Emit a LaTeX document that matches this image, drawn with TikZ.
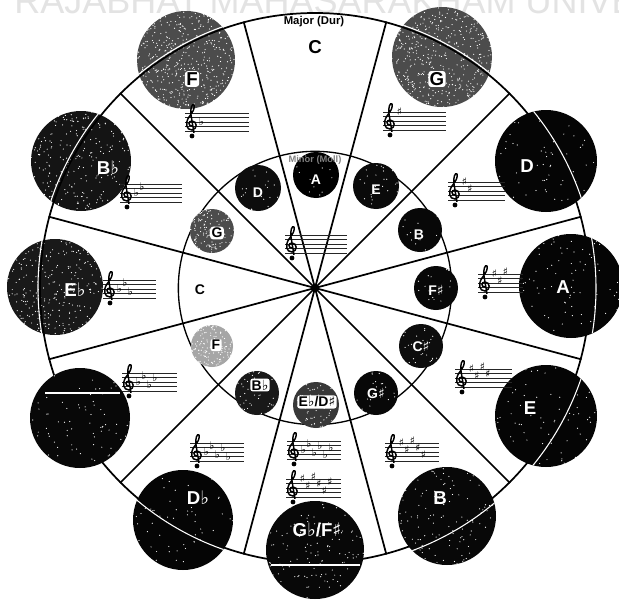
\documentclass[tikz,border=0pt]{standalone}
\usepackage{fontspec}
\setmainfont{Liberation Sans}
\newfontfamily\musicfont{DejaVu Sans}
\usetikzlibrary{positioning}
\newcommand{\fl}{{\musicfont ♭}}
\newcommand{\sh}{{\musicfont ♯}}
\newcommand{\speckle}[4]{\foreach \i in {1,...,#4}{%
  \pgfmathsetmacro\ra{360*rnd}\pgfmathsetmacro\rd{#3*sqrt(rnd)}%
  \fill[white] (#1,#2) ++(\ra:\rd) circle (.6);}}
\def\sharplist{-9,-2.25,-11.25,-4.5,2.25,-6.75}
\def\flatlist{0,-6.75,2.25,-4.5,4.5,-2.25}
\tikzset{
  spoke/.style={line width=1.3pt},
  rimline/.style={draw, circle, line width=1.3pt, inner sep=0pt},
  keydisc/.style={circle, inner sep=0pt, draw=none},
  biglabel/.style={font=\bfseries\fontsize{14}{14}\selectfont, text=white, inner sep=0pt},
  smalllabel/.style={font=\bfseries\fontsize{10.5}{11}\selectfont, text=white, inner sep=0pt},
  halo/.style={fill=white, text=black, inner sep=1pt, rounded corners=2pt},
  streak/.style={white, line width=.8pt},
  staffline/.style={black!85, line width=.6pt},
  acc/.style={inner sep=0pt, font=\musicfont\bfseries\fontsize{8}{8}\selectfont},
  pics/keystaff/.style n args={3}{code={
    \foreach \l in {-9,-4.5,0,4.5,9}{\draw[staffline] (0,\l) -- (#1,\l);}
    \draw[line width=1.1pt] (7,4) .. controls (3,4) and (3,-1) .. (7,-1)
      .. controls (12,-1) and (13,7) .. (7,8) .. controls (1,8) and (0,1) .. (4,-5)
      .. controls (8,-10) and (10,-14) .. (9,-17) .. controls (7,-19) and (5,-13) .. (6,-7) -- (9,11);
    \fill (7,14) circle (2.4);
    \foreach \ay [count=\c] in #3{\ifnum\c>#2\else
      \node[acc] at (11+5.5*\c,\ay) {\ifx#3\sharplist ♯\else ♭\fi};\fi}
  }}
}
\begin{document}
\begin{tikzpicture}[x=.75pt, y=-.75pt]
  \useasboundingbox (0,0) rectangle (619,600);
  \fill[white] (0,0) rectangle (619,600);
  \begin{scope}
    \clip (0,0) rectangle (619,600);
    \node[anchor=base west, inner sep=0pt, text=black!11, font=\fontsize{27}{27}\selectfont] (watermark) at (14,13) {RAJABHAT MAHASARAKHAM UNIVERSITY};
  \end{scope}

  % rings and spokes
  \node[rimline, minimum size=412.5pt] (rim) at (315,288) {};
  \node[rimline, line width=1pt, minimum size=205pt] (innerrim) at (315,288) {};
  \node[fill=black, inner sep=0pt, minimum size=5pt] (hub) at (315,288) {};
  \foreach \a in {15,45,...,345}{
    \draw[spoke] (hub.center) -- (rim.\a);
  }

  % outer discs
  \pgfmathsetseed{7}
  \foreach \name/\cx/\cy/\r/\s/\n in {F/186/60/49/70/420, G/442/57/50/70/420, Bb/81/161/50/92/210, Eb/55/287/48/90/240,
      Ab/80/418/50/97/70, Db/183/520/50/98/50, Gb/315/550/49/97/110, B/447/516/49/97/110, E/546/416/51/98/60, A/571/286/52/98/70, D/546/161/51/98/50}{
    \node[keydisc, fill=black!\s, minimum size=1.5*\r pt] (key\name) at (\cx,\cy) {};
    \speckle{\cx}{\cy}{\r}{\n}
  }

  % streaks on the outer discs
  \foreach \name/\cx/\cy/\r/\rr in {F/186/60/49/277, G/442/57/50/277, Bb/81/161/50/278, Eb/55/287/48/277, Db/183/520/50/277, B/447/516/49/280, E/546/416/51/281, A/571/286/52/281, D/546/161/51/281}{
    \begin{scope}
      \clip (\cx,\cy) circle (\r);
      \draw[streak] (315,288) circle (\rr);
    \end{scope}
  }
  \begin{scope}
    \clip (186,60) circle (49) (442,57) circle (50) (81,161) circle (50) (55,287) circle (48);
    \draw[line width=1.3pt] (315,288) circle (275);
  \end{scope}
  \draw[streak] (45,393) -- (120,393);
  \draw[streak] (271,565) -- (360,565);

  % inner discs
  \foreach \name/\cx/\cy/\r/\s/\n in {A/316/175/23/100/12, E/376/186/23/96/25, B/420/230/22/97/12, Fs/436/288/22/97/14, Cs/421/346/22/95/25, Gs/376/393/22/97/20,
      Ebm/316/405/23/78/60, Bbm/257/393/22/90/40, Fm/212/346/21/35/130, Gm/212/231/22/70/110, Dm/258/188/23/95/20}{
    \node[keydisc, fill=black!\s, minimum size=1.5*\r pt] (small\name) at (\cx,\cy) {};
    \ifnum\n>0 \speckle{\cx}{\cy}{\r}{\n}\fi
  }

  % staves
  \foreach \sx/\sy/\w/\n in {285/244/62/0, 383/121/63/1, 448/191/57/2, 478/283/45/3, 455/378/57/4, 385/452/54/5, 286/488/55/6}{
    \pic at (\sx,\sy) {keystaff={\w}{\n}{\sharplist}};
  }
  \foreach \sx/\sy/\w/\n in {185/122/64/1, 120/193/62/2, 103/289/53/3, 122/382/55/4, 190/452/54/5, 287/450/54/6}{
    \pic at (\sx,\sy) {keystaff={\w}{\n}{\flatlist}};
  }

  % labels
  \node[font=\bfseries\fontsize{8.5}{9}\selectfont, inner sep=0pt] (majorlabel) at (314,22) {Major (Dur)};
  \node[font=\bfseries\fontsize{7}{8}\selectfont, inner sep=0pt, text=black!50] (minorlabel) at (315,160) {Minor (Moll)};
  \node[biglabel, text=black] (labelC) at (315,47) {C};
  \node[biglabel, halo] (labelF) at (192,79) {F};
  \node[biglabel, halo] (labelG) at (437,79) {G};
  \foreach \name/\lx/\ly/\t in {Bb/108/168/{B\fl}, Eb/75/290/{E\fl}, Db/198/498/{D\fl}, Gb/317/530/{G\fl/F\sh}, B/440/498/B, E/530/408/E, A/563/287/A, D/527/166/D}{
    \node[biglabel] (label\name) at (\lx,\ly) {\t};
  }
  \foreach \name/\lx/\ly/\t in {A/316/180/A, E/376/190/E, B/419/235/B, Fs/436/290/{F\sh}, Cs/421/346/{C\sh}, Gs/376/393/{G\sh}, Dm/258/193/D}{
    \node[smalllabel] (labelsmall\name) at (\lx,\ly) {\t};
  }
  \node[smalllabel, text=black] (labelsmallC) at (200,290) {C};
  \node[smalllabel, halo] (labelsmallF) at (216,345) {F};
  \node[smalllabel, halo] (labelsmallG) at (217,233) {G};
  \node[smalllabel, halo] (labelsmallBb) at (260,385) {B\fl};
  \node[smalllabel, halo] (labelsmallEb) at (317,402) {E\fl/D\sh};
\end{tikzpicture}
\end{document}
